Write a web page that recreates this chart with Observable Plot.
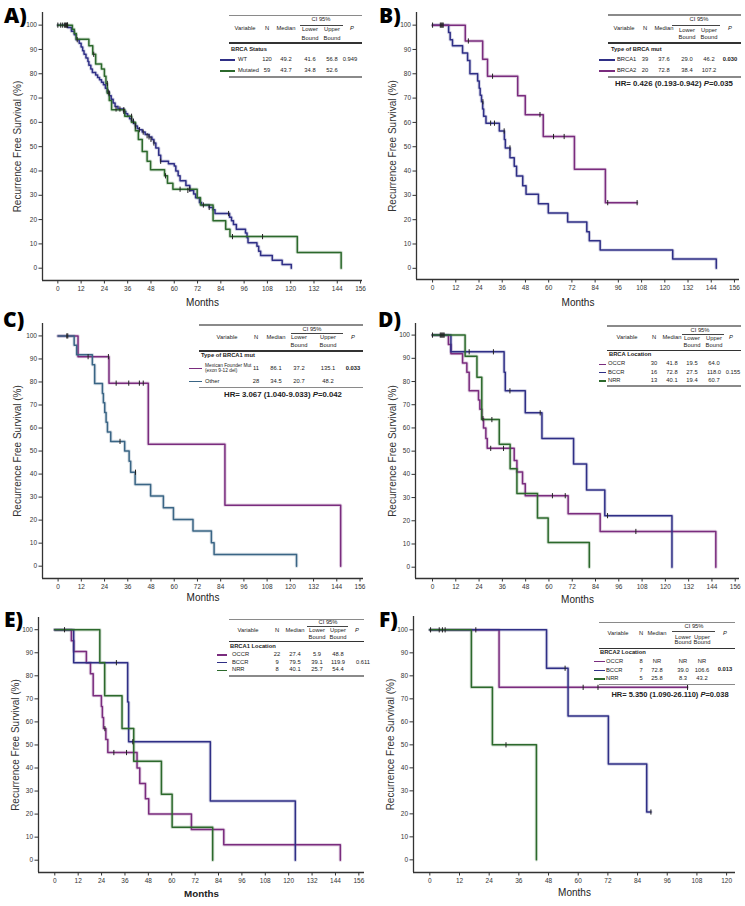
<!DOCTYPE html>
<html><head><meta charset="utf-8">
<script src="https://cdn.jsdelivr.net/npm/d3@7"></script>
<script src="https://cdn.jsdelivr.net/npm/@observablehq/plot@0.6"></script>
<style>
body{margin:0;background:#fff;}
#fig{position:relative;width:745px;height:906px;overflow:hidden;background:#fff;font-family:"Liberation Sans",Arial,sans-serif;color:#222;}
.panel{position:absolute;}
.t{position:absolute;white-space:nowrap;line-height:1;}
.r{position:absolute;}
.let{position:absolute;font-family:"Open Sans","Liberation Sans",sans-serif;font-weight:800;font-size:21px;line-height:1;color:#000;transform:translate(0,-50%);}
</style></head><body><div id="fig"></div>
<script>
// ---------- DATA ----------
const xTicks156 = [0,12,24,36,48,60,72,84,96,108,120,132,144,156];
const xTicks120 = [0,12,24,36,48,60,72,84,96,108,120];
const yTicks = [0,10,20,30,40,50,60,70,80,90,100];
const xLabel = "Months";
const yLabel = "Recurrence Free Survival (%)";
const panelLetters = ["A)","B)","C)","D)","E)","F)"];

// Panel A
const A_WT = [[0,100],[5,99],[7,97.5],[8.5,96],[9.5,94],[11,92.5],[12,91],[12.8,89.5],[13.5,88],[14.5,86.5],[15.5,85],[16,83.5],[17,82],[17.8,80.5],[19.5,79.5],[20.5,78.5],[21.5,77.5],[22.5,76.5],[23.5,75.5],[24.5,74],[25.5,72.5],[26.5,71],[27.5,69.5],[28.5,68],[29.5,66.5],[31,65.5],[34,64.5],[35,63.5],[36,62.5],[37,61.5],[38,60.5],[39,59.5],[40,58.5],[41,57.5],[42,57],[43.5,56],[45,55],[47,54],[48.5,53],[49.5,51.5],[50.5,49.5],[52,46.5],[53,44],[57,43],[60,42],[60.8,40],[62,38],[63,36],[66,34],[68,32],[70,30.5],[71,29],[73,27],[74,26],[78,25],[80,24],[81,22.5],[88.5,21],[89.5,19.5],[90.5,18],[92,16],[96.7,14.5],[97.5,12.5],[98,10.5],[102.6,9],[103.5,7],[104.5,5.2],[110.5,3.3],[115.6,1.5],[120.3,0]];
const A_WT_c = [[0,100],[1.5,100],[3.5,100],[4.5,100],[5,100],[10,94],[26,72.5],[30,65.5],[32,65.5],[34,64.5],[38,61.5],[39,60.5],[40,58.5],[42,57],[44,56],[46,54.5],[47,54],[48,53],[49.5,51.5],[53,44],[67,32],[75,26],[78,25],[88,22.5]];
const A_MUT = [[0,100],[7.5,98.3],[8.5,96.6],[9.5,94.2],[16,91.5],[18,88],[19.5,84],[22.5,82],[24,79],[24.8,76],[25.5,72],[26.5,69],[27.7,65.2],[34.5,62.5],[38,60],[40,56.5],[41.5,53],[43.5,48],[46,44],[47.8,40.5],[55,38],[56.5,35],[59.3,32.5],[71.8,29],[73.5,26],[80,19.5],[86.5,16],[88.7,13],[123.4,6.5],[146,0]];
const A_MUT_c = [[2.5,100],[4,100],[5,100],[18.5,88],[25.5,76],[26.5,72],[34,65.2],[38,62.5],[55.5,38],[63,32.5],[68,32.5],[90,13],[105.5,13]];
const A_group = "BRCA Status";
const A_rows = [["WT","120","49.2","41.6","56.8"],["Mutated","59","43.7","34.8","52.6"]];
const A_P = "0.949";

// Panel B
const B_BRCA1 = [[0,100],[8.3,97],[9.1,94],[10.3,91.5],[15.5,88.5],[18.1,85.5],[19.3,80],[23.3,77],[24.1,74],[24.6,71.2],[25.3,68.5],[25.9,65.5],[26.4,62.5],[27.6,59.7],[34.5,56.5],[37.1,53],[37.6,49.5],[40,45.5],[42.2,42],[43.4,38],[46.6,34],[48.3,30.5],[54.7,26.5],[59.8,22.7],[69.8,19],[79.7,15],[81,11.3],[86.6,7.5],[124.1,3.8],[146.6,0]];
const B_BRCA1_c = [[0,100],[4,100],[4.5,100],[5,100],[5.5,100],[26,68.5],[30,59.7],[32,59.7],[37,56.5],[40,49.5]];
const B_BRCA2 = [[0,100],[16.9,93.5],[25.9,86],[28.4,79],[44,71],[47.9,63.2],[57.2,54.2],[73.3,40.7],[89.3,27],[105.7,27]];
const B_BRCA2_c = [[18.5,93.5],[31,79],[55.5,63.2],[62.5,54.2],[68,54.2],[90.5,27],[105.7,27]];
const B_group = "Type of BRCA mut";
const B_rows = [["BRCA1","39","37.6","29.0","46.2"],["BRCA2","20","72.8","38.4","107.2"]];
const B_P = "0.030";
const B_HR = ["HR= 0.426 (0.193-0.942) ","P","=0.035"];

// Panel C
const C_MEX = [[0,100],[10.3,91],[26.3,79.5],[46.6,53],[86.2,26.5],[146,0]];
const C_MEX_c = [[5,100],[15.5,91],[26,91],[30,79.5],[36.5,79.5],[42,79.5],[44,79.5]];
const C_OTH = [[0,100],[8.3,96],[9.6,91.8],[17.7,87.5],[18.9,79.3],[22.9,75],[23.4,71],[24.1,66.7],[24.8,62.5],[25.5,58.3],[27.2,54.2],[34.4,50],[36.7,45.6],[37.5,40.8],[39.8,35.5],[47.8,30.5],[54.4,25.4],[59.6,20.3],[69.7,15.3],[79.2,10.2],[80.6,5.1],[123.2,0]];
const C_OTH_c = [[4.5,100],[32,54.2],[40,40.8]];
const C_group = "Type of BRCA1 mut";
const C_rows = [["Mexican Founder Mut|(exon 9-12 del)","11","86.1","37.2","135.1"],["Other","28","34.5","20.7","48.2"]];
const C_P = "0.033";
const C_HR = ["HR= 3.067 (1.040-9.033) ","P","=0.042"];

// Panel D
const D_OCCR = [[0,100],[8.2,96],[9.5,92],[15.5,88],[17.7,84],[18.9,76],[23.7,72],[24.4,68],[25.4,64],[26.3,60],[27.5,55.5],[28.2,51.2],[42.1,46],[43.5,41],[46.4,36],[47.8,30.8],[69.9,23],[86.4,15.4],[146,0]];
const D_OCCR_c = [[0,100],[4,100],[4.5,100],[5,100],[5.5,100],[6,100],[26,64],[30,51.2],[36.6,51.2],[61.8,30.8],[68.4,30.8],[104.8,15.4]];
const D_BCCR = [[0,100],[9.5,92.8],[36.9,84],[37.5,76],[47.8,66.5],[56.4,55.5],[72.7,44.5],[79.4,33.3],[88.8,22.2],[123.4,0]];
const D_BCCR_c = [[18.9,92.8],[31.4,92.8],[39.9,76],[55.5,66.5],[90.2,22.2]];
const D_NRR = [[0,100],[16.8,90.9],[22.9,81.8],[25.4,63.6],[34.4,53],[40,42.4],[43.5,31.8],[54.1,21.2],[59.6,10.6],[80.8,0]];
const D_NRR_c = [[30.6,63.6]];
const D_group = "BRCA Location";
const D_rows = [["OCCR","30","41.8","19.5","64.0"],["BCCR","16","72.8","27.5","118.0"],["NRR","13","40.1","19.4","60.7"]];
const D_P = "0.155";

// Panel E
const E_OCCR = [[0,100],[8.5,95.2],[9.7,90.5],[16.2,85.7],[18.3,80.9],[19.7,71.4],[23.9,66.7],[24.4,61.9],[25,57.1],[26.2,52.4],[27.2,46.7],[42.2,40],[43.6,33.3],[46.5,26.7],[48.2,20],[70.1,13.3],[86.7,6.7],[146.5,0]];
const E_OCCR_c = [[5,100],[25.7,57.1],[30.3,46.7],[36.8,46.7]];
const E_BCCR = [[0,100],[9.7,85.7],[37.4,68.6],[37.9,51.4],[79.8,25.7],[123.4,0]];
const E_BCCR_c = [[31.6,85.7],[40,51.4]];
const E_NRR = [[0,100],[23.1,85.7],[25.6,71.4],[34.5,57.1],[40.5,42.9],[54.7,28.6],[60.2,14.3],[81,0]];
const E_NRR_c = [];
const E_group = "BRCA1 Location";
const E_rows = [["OCCR","22","27.4","5.9","48.8"],["BCCR","9","79.5","39.1","119.9"],["NRR","8","40.1","25.7","54.4"]];
const E_P = "0.611";

// Panel F
const F_OCCR = [[0,100],[28,75],[104.2,75]];
const F_OCCR_c = [[18.6,100],[62,75],[68,75],[104.2,75]];
const F_BCCR = [[0,100],[47.2,83.3],[55.9,62.5],[72.2,41.7],[87.7,20.8],[89.4,20.8]];
const F_BCCR_c = [[54.7,83.3],[89.4,20.8]];
const F_NRR = [[0,100],[16.8,75],[25.3,50],[43.1,0]];
const F_NRR_c = [[0.3,100],[3.8,100],[5.1,100],[6.2,100],[30.8,50]];
const F_group = "BRCA2 Location";
const F_rows = [["OCCR","8","NR","NR","NR"],["BCCR","7","72.8","39.0","106.6"],["NRR","5","25.8","8.3","43.2"]];
const F_P = "0.013";
const F_HR = ["HR= 5.350 (1.090-26.110) ","P","=0.038"];

const tableHeader = ["Variable","N","Median","Lower","Upper","P"];
const boundLabel = "Bound";
const ciLabel = "CI 95%";

// ---------- STYLE / LAYOUT ----------
const navy="#2f2f86", purple="#7a2c7e", green="#2c692c", steel="#3a6585";
const fig = document.getElementById("fig");
const censorSym = {draw(ctx, size){ const r = Math.sqrt(size/Math.PI); ctx.moveTo(0,-r); ctx.lineTo(0,r); }};

const panels = [
 {left:0,top:0,w:372,h:300,ml:42,mt:12,mb:20,mr:10,xd:[-7.9,157],yd:[-5.06,105.2],xt:xTicks156,mDy:22.5,mBold:false,yDx:-25,
  series:[{d:A_WT,c:navy,cs:A_WT_c},{d:A_MUT,c:green,cs:A_MUT_c}],letter:[4,14.5],
  tab:{group:A_group,rows:A_rows,P:A_P,pBold:false,x1:229,x2:362,top:15.7,ciX:321,ciY:20,ciL:[300,343,25.5],cols:[245,267,286,310,332,352],hdrY:29.3,lowY:30,boundY:39,hdrRule:43,grpX:231,grpY:49.5,rowY:[60,71],samp:[220,235],nameX:238,pX:350,pY:60,bottom:77}},
 {left:372,top:0,w:373,h:300,ml:44,mt:12,mb:21,mr:6,xd:[-8.3,158.6],yd:[-4.6,105.2],xt:xTicks156,mDy:23.7,mBold:false,yDx:-24,
  series:[{d:B_BRCA1,c:navy,cs:B_BRCA1_c},{d:B_BRCA2,c:purple,cs:B_BRCA2_c}],letter:[379,14.5],
  tab:{group:B_group,rows:B_rows,P:B_P,pBold:true,HR:B_HR,x1:608,x2:741,top:15,ciX:699,ciY:20,ciL:[672,720,25.5],cols:[624,645,664,687,709,730],hdrY:29.3,lowY:30.7,boundY:38.3,hdrRule:43,grpX:611,grpY:50,rowY:[60,71],samp:[599,615],nameX:617,pX:730,pY:60,bottom:77,hr:[674,83.5]}},
 {left:0,top:300,w:372,h:300,ml:42,mt:23,mb:22,mr:9,xd:[-8.06,157.8],yd:[-5.35,105.4],xt:xTicks156,mDy:19.7,mBold:false,yDx:-25,
  series:[{d:C_MEX,c:purple,cs:C_MEX_c},{d:C_OTH,c:steel,cs:C_OTH_c}],letter:[3,319],
  tab:{group:C_group,rows:C_rows,P:C_P,pBold:true,HR:C_HR,x1:199,x2:363,top:325,ciX:312,ciY:329.5,ciL:[291,343,333.3],cols:[227,256,276,299,328,353],hdrY:338.3,lowY:338.3,boundY:346,hdrRule:351,grpX:201,grpY:356,rowY:[368.5,381.7],samp:[189,202],nameX:205,pX:353,pY:368.5,bottom:387.7,hr:[283,395]}},
 {left:372,top:300,w:373,h:300,ml:43,mt:23,mb:22,mr:6,xd:[-8.76,158.2],yd:[-4.87,105],xt:xTicks156,mDy:21,mBold:false,yDx:-23,
  series:[{d:D_OCCR,c:purple,cs:D_OCCR_c},{d:D_BCCR,c:navy,cs:D_BCCR_c},{d:D_NRR,c:green,cs:D_NRR_c}],letter:[378,319],
  tab:{group:D_group,rows:D_rows,P:D_P,pBold:false,x1:607,x2:741,top:326,ciX:700,ciY:330.5,ciL:[682,724,334.7],cols:[627,654,672,692,714,731],hdrY:338.3,lowY:339.3,boundY:346,hdrRule:350.7,grpX:609,grpY:355,rowY:[364.3,372.7,381],samp:[599,606],nameX:608,pX:733,pY:372.7,bottom:386}},
 {left:0,top:600,w:372,h:306,ml:38,mt:17,mb:34,mr:8,xd:[-8.36,158.9],yd:[-5.34,105.3],xt:xTicks156,mDy:21.6,mBold:true,yDx:-23,
  series:[{d:E_OCCR,c:purple,cs:E_OCCR_c},{d:E_BCCR,c:navy,cs:E_BCCR_c},{d:E_NRR,c:green,cs:E_NRR_c}],letter:[4,619],
  tab:{group:E_group,rows:E_rows,P:E_P,pBold:false,x1:229,x2:364,top:619.3,ciX:328,ciY:623.3,ciL:[307,348,626.7],cols:[248,277,295,317,338,357],hdrY:630.7,lowY:630.7,boundY:637.7,hdrRule:641.7,grpX:230,grpY:646.7,rowY:[655,662.7,670.3],samp:[217,227],nameX:232,pX:363,pY:662.7,bottom:676}},
 {left:372,top:600,w:373,h:306,ml:41,mt:16,mb:34,mr:10,xd:[-6.6,123.6],yd:[-5.5,105.8],xt:xTicks120,mDy:20.4,mBold:false,yDx:-23,
  series:[{d:F_OCCR,c:purple,cs:F_OCCR_c},{d:F_BCCR,c:navy,cs:F_BCCR_c},{d:F_NRR,c:green,cs:F_NRR_c}],letter:[379,618.5],
  tab:{group:F_group,rows:F_rows,P:F_P,pBold:true,HR:F_HR,x1:599,x2:735,top:622.7,ciX:694,ciY:626.7,ciL:[672,715,631.7],cols:[618,641,657,683,702,725],hdrY:634.3,lowY:637.7,boundY:643.3,hdrRule:648.3,grpX:600,grpY:652.7,rowY:[661.7,670.7,679],samp:[594,605],nameX:606,pX:725,pY:670,bottom:684.3,hr:[670,695],hrSize:7.5}}
];

function T(x,y,html,o={}){
  const e=document.createElement("div"); e.className="t"; e.innerHTML=html;
  e.style.left=x+"px"; e.style.top=y+"px"; e.style.fontSize=(o.size||5.8)+"px";
  e.style.fontWeight=o.weight||"normal"; e.style.fontStyle=o.style||"normal"; e.style.color=o.color||"#222";
  if(o.family) e.style.fontFamily=o.family;
  const a=o.anchor||"middle"; const tx=a==="start"?"0":a==="end"?"-100%":"-50%";
  e.style.transform=`translate(${tx},-50%)`; fig.appendChild(e);
}
function R(x1,x2,y,w,c){
  const e=document.createElement("div"); e.className="r";
  e.style.left=x1+"px"; e.style.top=(y-w/2)+"px"; e.style.width=(x2-x1)+"px"; e.style.height=w+"px"; e.style.background=c;
  fig.appendChild(e);
}

function drawPanel(p, i){
  const marks = [
    Plot.ruleX([p.xd[0]], {stroke:"#333", strokeWidth:1.3}),
    Plot.ruleY([p.yd[0]], {stroke:"#333", strokeWidth:1.3}),
    Plot.axisX({ticks:p.xt, tickSize:3.5, tickPadding:2, fontSize:6.5, label:null}),
    Plot.axisY({ticks:yTicks, tickSize:3.5, tickPadding:2, fontSize:6.5, label:null}),
    Plot.text([xLabel], {text:d=>d, frameAnchor:"bottom", textAnchor:"middle", lineAnchor:"middle", dy:p.mDy, fontSize:p.mBold?9.8:10, fontWeight:p.mBold?"bold":"normal", fill:"#222"}),
    Plot.text([yLabel], {text:d=>d, frameAnchor:"left", textAnchor:"middle", lineAnchor:"middle", dx:p.yDx, rotate:-90, fontSize:10, fill:"#333"})
  ];
  for (const s of p.series) {
    marks.push(Plot.line(s.d, {x:d=>d[0], y:d=>d[1], curve:"step-after", stroke:s.c, strokeWidth:3.4, strokeOpacity:0.2}));
  }
  for (const s of p.series) {
    marks.push(Plot.line(s.d, {x:d=>d[0], y:d=>d[1], curve:"step-after", stroke:s.c, strokeWidth:1.5}));
  }
  for (const s of p.series) {
    marks.push(Plot.dot(s.cs, {x:d=>d[0], y:d=>d[1], symbol:censorSym, r:2.6, stroke:"#222", strokeWidth:1, fill:"none"}));
  }
  const svg = Plot.plot({
    width:p.w, height:p.h, marginLeft:p.ml, marginTop:p.mt, marginBottom:p.mb, marginRight:p.mr,
    x:{domain:p.xd}, y:{domain:p.yd},
    style:{background:"transparent", overflow:"visible", fontFamily:"'Liberation Sans', Arial, sans-serif", color:"#333"},
    marks
  });
  const div=document.createElement("div"); div.className="panel"; div.style.left=p.left+"px"; div.style.top=p.top+"px";
  div.appendChild(svg); fig.appendChild(div);

  // letter
  const L=document.createElement("div"); L.className="let"; L.textContent=panelLetters[i];
  L.style.left=p.letter[0]+"px"; L.style.top=p.letter[1]+"px"; fig.appendChild(L);

  // table
  const t=p.tab;
  R(t.x1,t.x2,t.top,1.6,"#8a8a8a");
  T(t.ciX,t.ciY,ciLabel);
  R(t.ciL[0],t.ciL[1],t.ciL[2],0.8,"#444");
  T(t.cols[0],t.hdrY,tableHeader[0]);
  T(t.cols[1],t.hdrY,tableHeader[1]);
  T(t.cols[2],t.hdrY,tableHeader[2]);
  T(t.cols[3],t.lowY,tableHeader[3]); T(t.cols[3],t.boundY,boundLabel);
  T(t.cols[4],t.lowY,tableHeader[4]); T(t.cols[4],t.boundY,boundLabel);
  T(t.cols[5],t.hdrY,tableHeader[5],{style:"italic"});
  R(t.x1,t.x2,t.hdrRule,1.1,"#333");
  T(t.grpX,t.grpY,t.group,{anchor:"start",weight:"bold"});
  t.rows.forEach((row,k)=>{
    const y=t.rowY[k];
    R(t.samp[0],t.samp[1],y,1.5,p.series[k].c);
    const nm=row[0].split("|");
    if(nm.length===1) T(t.nameX,y,nm[0],{anchor:"start"});
    else {
      const fam="'Liberation Sans Narrow','Arial Narrow','Liberation Sans',sans-serif";
      T(t.nameX,y-2.9,nm[0],{anchor:"start",size:4.8,family:fam});
      T(t.nameX,y+2.9,nm[1],{anchor:"start",size:4.8,family:fam});
    }
    for(let c=1;c<5;c++) T(t.cols[c],y,row[c]);
  });
  T(t.pX,t.pY,t.P,{weight:t.pBold?"bold":"normal"});
  R(t.x1,t.x2,t.bottom,1.6,"#8a8a8a");
  if(t.HR) T(t.hr[0],t.hr[1],`${t.HR[0]}<i>${t.HR[1]}</i>${t.HR[2]}`,{size:t.hrSize||7.8,weight:"bold"});
}
panels.forEach(drawPanel);
</script></body></html>
